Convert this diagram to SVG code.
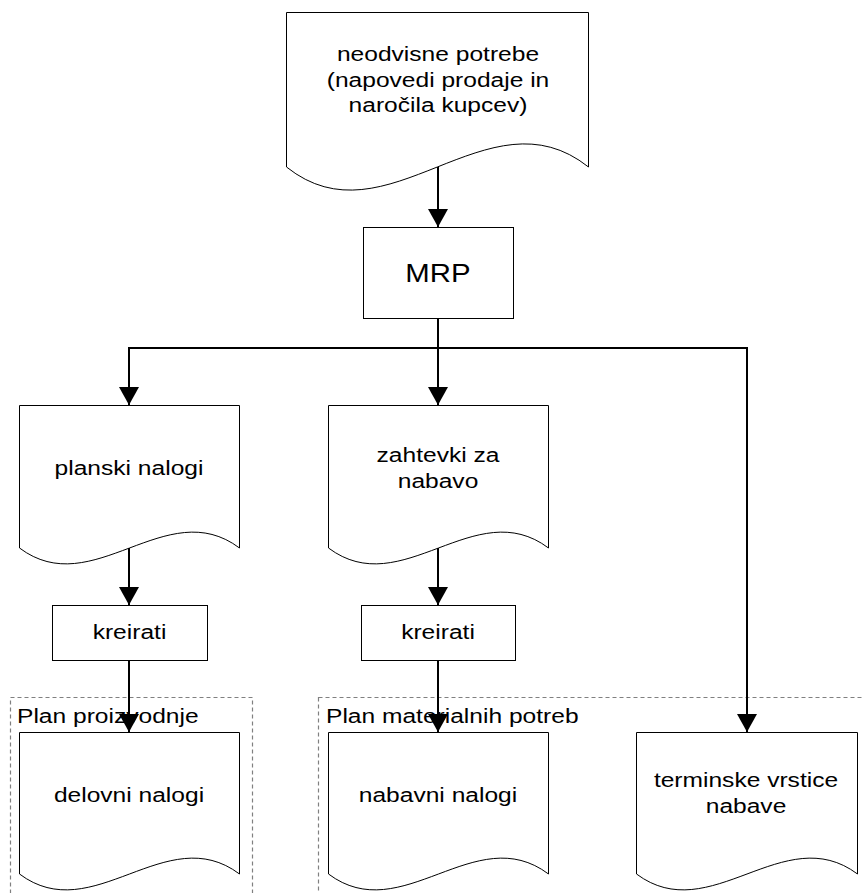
<svg xmlns="http://www.w3.org/2000/svg" width="864" height="893" viewBox="0 0 864 893">
<style>
.shape{fill:#fff;stroke:#000;stroke-width:1}
.cont{fill:none;stroke:#808080;stroke-width:1.2;stroke-dasharray:4,3}
.t{font-family:"Liberation Sans",Arial,sans-serif;font-size:21px;fill:#000;text-anchor:middle}
.ts{font-family:"Liberation Sans",Arial,sans-serif;font-size:21px;fill:#000;text-anchor:start}
.big{font-size:26px}
.conn{fill:none;stroke:#000;stroke-width:2}
</style>
<defs>
<marker id="ah" markerUnits="userSpaceOnUse" markerWidth="20" markerHeight="20" refX="18" refY="10" orient="auto">
<path d="M0,0 L18,10 L0,20 Z" fill="#000"/>
</marker>
</defs>
<rect width="864" height="893" fill="#fff"/>
<g id="plan-proizvodnje">
<rect class="cont" x="10.5" y="697.5" width="242" height="220"/>
<text class="ts" transform="translate(17,723) scale(1.17,1)">Plan proizvodnje</text>
</g>
<g id="plan-materialnih-potreb">
<rect class="cont" x="318.5" y="697.5" width="580" height="220"/>
<text class="ts" transform="translate(326,723) scale(1.17,1)">Plan materialnih potreb</text>
</g>
<g id="neodvisne">
<path class="shape" d="M286.5,12.5 H588.5 V167 C487.8,87 386.7,247 286.5,167 Z"/>
<text class="t" transform="translate(438,61) scale(1.17,1)">neodvisne potrebe</text>
<text class="t" transform="translate(438,87) scale(1.17,1)">(napovedi prodaje in</text>
<text class="t" transform="translate(438,112) scale(1.17,1)">naročila kupcev)</text>
</g>
<g id="mrp">
<rect class="shape" x="363.5" y="227.5" width="150" height="91"/>
<text class="t big" transform="translate(438,282) scale(1.13,1)">MRP</text>
</g>
<g id="planski">
<path class="shape" d="M19.5,405.5 H239.5 V548 C166.2,493 92.8,603 19.5,548 Z"/>
<text class="t" transform="translate(129,475) scale(1.17,1)">planski nalogi</text>
</g>
<g id="zahtevki">
<path class="shape" d="M328.5,405.5 H548.5 V548 C475.2,493 401.8,603 328.5,548 Z"/>
<text class="t" transform="translate(438,462) scale(1.17,1)">zahtevki za</text>
<text class="t" transform="translate(438,488) scale(1.17,1)">nabavo</text>
</g>
<g id="kreirati1">
<rect class="shape" x="52.5" y="605.5" width="155" height="55"/>
<text class="t" transform="translate(129.5,639) scale(1.17,1)">kreirati</text>
</g>
<g id="kreirati2">
<rect class="shape" x="361.5" y="605.5" width="154" height="55"/>
<text class="t" transform="translate(438,639) scale(1.17,1)">kreirati</text>
</g>
<g id="delovni">
<path class="shape" d="M19.5,732.5 H239.5 V874 C166.2,819 92.8,929 19.5,874 Z"/>
<text class="t" transform="translate(129,802) scale(1.17,1)">delovni nalogi</text>
</g>
<g id="nabavni">
<path class="shape" d="M328.5,732.5 H548.5 V874 C475.2,819 401.8,929 328.5,874 Z"/>
<text class="t" transform="translate(438,802) scale(1.17,1)">nabavni nalogi</text>
</g>
<g id="terminske">
<path class="shape" d="M636.5,732.5 H857.5 V874 C783.8,819 710.2,929 636.5,874 Z"/>
<text class="t" transform="translate(746,787) scale(1.17,1)">terminske vrstice</text>
<text class="t" transform="translate(746,813) scale(1.17,1)">nabave</text>
</g>
<g id="connectors">
<path class="conn" marker-end="url(#ah)" d="M438,167 V227"/>
<path class="conn" marker-end="url(#ah)" d="M438,318 V405"/>
<path class="conn" marker-end="url(#ah)" d="M438,348 H129 V405"/>
<path class="conn" marker-end="url(#ah)" d="M438,348 H747 V732"/>
<path class="conn" marker-end="url(#ah)" d="M129,548 V605"/>
<path class="conn" marker-end="url(#ah)" d="M129,660 V732"/>
<path class="conn" marker-end="url(#ah)" d="M438,548 V605"/>
<path class="conn" marker-end="url(#ah)" d="M438,660 V732"/>
</g>
</svg>
